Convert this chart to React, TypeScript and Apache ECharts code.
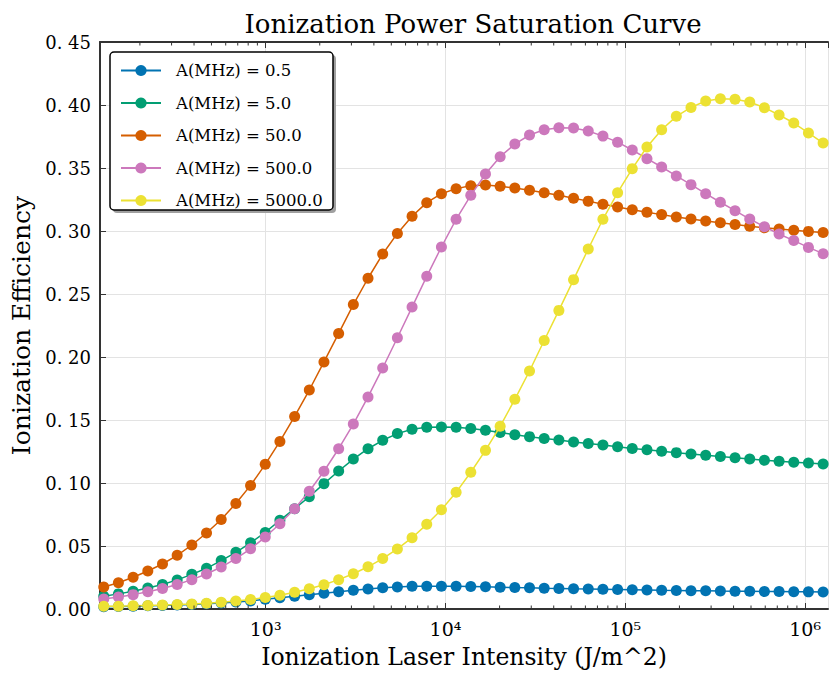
import React, { useEffect, useRef } from "react";
import * as echarts from "echarts";

const FONT = "DejaVu Serif";

const xValues = [
  125.9, 151.9, 183.4, 221.3, 267.1, 322.3, 388.9, 469.3, 566.4, 683.5,
  824.8, 995.4, 1201, 1450, 1750, 2111, 2548, 3075, 3711, 4478,
  5404, 6522, 7870, 9497, 11462, 13832, 16693, 20144, 24310, 29337,
  35403, 42724, 51559, 62221, 75088, 90615, 109353, 131965, 159254, 192187,
  231928, 279888, 337766, 407613, 491903, 593621, 716374, 864511, 1043284, 1258925,
];

const seriesNames = [
  "A(MHz) = 0.5",
  "A(MHz) = 5.0",
  "A(MHz) = 50.0",
  "A(MHz) = 500.0",
  "A(MHz) = 5000.0",
];

const colors = ["#0173b2", "#029e73", "#d55e00", "#cc78bc", "#ece133"];

const blue = [
  0.0018, 0.0020, 0.0022, 0.0025, 0.0028, 0.0032, 0.0036, 0.0041, 0.0047, 0.0055,
  0.0064, 0.0077, 0.0090, 0.0102, 0.0114, 0.0125, 0.0137, 0.0149, 0.0159, 0.0168,
  0.0175, 0.0180, 0.0181, 0.0181, 0.0180, 0.0178, 0.0176, 0.0173, 0.0170, 0.0168,
  0.0165, 0.0163, 0.0160, 0.0158, 0.0156, 0.0154, 0.0152, 0.0150, 0.0148, 0.0147,
  0.0145, 0.0144, 0.0142, 0.0141, 0.0140, 0.0139, 0.0138, 0.0137, 0.0136, 0.0135,
];

const green = [
  0.0101, 0.0120, 0.0141, 0.0166, 0.0194, 0.0231, 0.0275, 0.0323, 0.0384, 0.0450,
  0.0525, 0.0608, 0.0704, 0.0796, 0.0891, 0.0995, 0.1095, 0.1190, 0.1272, 0.1339,
  0.1392, 0.1427, 0.1442, 0.1445, 0.1442, 0.1433, 0.1419, 0.1401, 0.1383, 0.1368,
  0.1354, 0.1341, 0.1326, 0.1313, 0.1301, 0.1287, 0.1274, 0.1264, 0.1252, 0.1241,
  0.1230, 0.1220, 0.1210, 0.1200, 0.1190, 0.1181, 0.1173, 0.1165, 0.1158, 0.1150,
];

const orange = [
  0.0175, 0.0208, 0.0252, 0.0302, 0.0357, 0.0426, 0.0508, 0.0603, 0.0710, 0.0838,
  0.0981, 0.1148, 0.1330, 0.1528, 0.1738, 0.1961, 0.2187, 0.2416, 0.2625, 0.2817,
  0.2981, 0.3117, 0.3225, 0.3296, 0.3336, 0.3360, 0.3365, 0.3356, 0.3341, 0.3323,
  0.3304, 0.3283, 0.3260, 0.3237, 0.3213, 0.3190, 0.3168, 0.3149, 0.3130, 0.3111,
  0.3095, 0.3079, 0.3066, 0.3052, 0.3038, 0.3025, 0.3015, 0.3006, 0.2997, 0.2988,
];

const pink = [
  0.0079, 0.0095, 0.0114, 0.0137, 0.0163, 0.0195, 0.0233, 0.0278, 0.0333, 0.0400,
  0.0478, 0.0571, 0.0677, 0.0796, 0.0934, 0.1093, 0.1272, 0.1468, 0.1683, 0.1913,
  0.2153, 0.2396, 0.2640, 0.2873, 0.3093, 0.3283, 0.3452, 0.3590, 0.3690, 0.3762,
  0.3804, 0.3820, 0.3817, 0.3794, 0.3753, 0.3705, 0.3643, 0.3574, 0.3508, 0.3437,
  0.3368, 0.3296, 0.3228, 0.3161, 0.3095, 0.3034, 0.2976, 0.2924, 0.2870, 0.2820,
];

const yellow = [
  0.0021, 0.0022, 0.0025, 0.0028, 0.0031, 0.0035, 0.0040, 0.0046, 0.0053, 0.0063,
  0.0075, 0.0091, 0.0109, 0.0133, 0.0161, 0.0193, 0.0233, 0.0280, 0.0335, 0.0400,
  0.0477, 0.0566, 0.0672, 0.0788, 0.0926, 0.1085, 0.1259, 0.1450, 0.1664, 0.1889,
  0.2131, 0.2370, 0.2614, 0.2857, 0.3093, 0.3304, 0.3495, 0.3667, 0.3804, 0.3910,
  0.3981, 0.4032, 0.4050, 0.4045, 0.4024, 0.3979, 0.3921, 0.3857, 0.3778, 0.3698,
];

const allSeries = [blue, green, orange, pink, yellow];

const minorTicks = [
  200, 300, 400, 500, 600, 700, 800, 900,
  2000, 3000, 4000, 5000, 6000, 7000, 8000, 9000,
  20000, 30000, 40000, 50000, 60000, 70000, 80000, 90000,
  200000, 300000, 400000, 500000, 600000, 700000, 800000, 900000,
];

const sup: Record<number, string> = { 2: "²", 3: "³", 4: "⁴", 5: "⁵", 6: "⁶" };

const X_MIN = 120;
const X_MAX = 1340000;

export default function App() {
  const ref = useRef<HTMLDivElement>(null);
  useEffect(() => {
    if (!ref.current) return;
    const chart = echarts.init(ref.current, undefined, { renderer: "svg" });
    const axisColor = "#333333";
    const logFmt = (v: number) => {
      const l = Math.log10(v);
      const e = Math.round(l);
      if (Math.abs(l - e) > 1e-6) return "";
      return "10" + (sup[e] || "");
    };
    const lineSeries = allSeries.map((d, k) => ({
      name: seriesNames[k],
      type: "line",
      data: d.map((v, i) => [xValues[i], v]),
      symbol: "circle",
      symbolSize: 11,
      showSymbol: true,
      lineStyle: { color: colors[k], width: 1.5 },
      itemStyle: { color: colors[k] },
      z: 2 + k * 0.01,
    }));
    const option: any = {
      animation: false,
      grid: { left: 100, top: 42, width: 728, height: 567 },
      title: {
        text: "Ionization Power Saturation Curve",
        left: 468,
        top: 6,
        textAlign: "center",
        textStyle: { fontFamily: FONT, fontSize: 26, fontWeight: "normal", color: "#000" },
      },
      legend: {
        data: seriesNames,
        orient: "vertical",
        left: 120,
        top: 62,
        padding: 0,
        itemWidth: 40,
        itemHeight: 14,
        itemGap: 15.5,
        textStyle: { fontFamily: FONT, fontSize: 16.5, color: "#000", padding: [0, 0, 0, 10] },
        z: 20,
      },
      graphic: [
        {
          type: "rect",
          shape: { x: 113, y: 55, width: 223, height: 158, r: 4 },
          style: { fill: "#a0a0a0" },
          z: 10,
        },
        {
          type: "rect",
          shape: { x: 110, y: 52, width: 223, height: 158, r: 4 },
          style: { fill: "#ffffff", stroke: "#000", lineWidth: 1.5 },
          z: 11,
        },
      ],
      xAxis: [
        {
          type: "log",
          logBase: 10,
          min: X_MIN,
          max: X_MAX,
          name: "Ionization Laser Intensity (J/m^2)",
          nameLocation: "middle",
          nameGap: 36,
          nameTextStyle: { fontFamily: FONT, fontSize: 23.5, color: "#000" },
          axisLine: { show: true, onZero: false, lineStyle: { color: axisColor, width: 2 } },
          axisTick: { show: true, inside: true, length: 6, lineStyle: { color: axisColor, width: 1 } },
          axisLabel: {
            formatter: logFmt,
            margin: 10,
            showMinLabel: false,
            showMaxLabel: false,
            fontFamily: FONT,
            fontSize: 19,
            color: "#000",
          },
          splitLine: { show: true, lineStyle: { color: "#e3e3e3", width: 1 } },
        },
        {
          type: "log",
          logBase: 10,
          min: X_MIN,
          max: X_MAX,
          position: "top",
          axisLine: { show: true, onZero: false, lineStyle: { color: axisColor, width: 2 } },
          axisTick: { show: true, inside: true, length: 6, lineStyle: { color: axisColor, width: 1 } },
          axisLabel: { show: false },
          splitLine: { show: false },
        },
      ],
      yAxis: {
        type: "value",
        min: 0,
        max: 0.45,
        interval: 0.05,
        name: "Ionization Efficiency",
        nameLocation: "middle",
        nameGap: 63,
        nameTextStyle: { fontFamily: FONT, fontSize: 25, color: "#000" },
        axisLine: { show: true, lineStyle: { color: axisColor, width: 2 } },
        axisTick: { show: true, inside: true, length: 6, lineStyle: { color: axisColor, width: 1 } },
        axisLabel: {
          formatter: (v: number) => v.toFixed(2).replace(".", ". "),
          margin: 9,
          fontFamily: FONT,
          fontSize: 18,
          color: "#000",
        },
        splitLine: { show: true, lineStyle: { color: "#e3e3e3", width: 1 } },
      },
      series: [
        ...lineSeries,
        {
          type: "custom",
          name: "minorTicks",
          data: minorTicks.map((v) => [v, 0]),
          silent: true,
          z: 5,
          renderItem: (params: any, api: any) => {
            const x = api.coord([api.value(0), 0])[0];
            const cs = params.coordSys;
            const bottom = cs.y + cs.height;
            return {
              type: "group",
              children: [
                { type: "line", shape: { x1: x, y1: bottom, x2: x, y2: bottom - 3.5 }, style: { stroke: axisColor, lineWidth: 1 } },
                { type: "line", shape: { x1: x, y1: cs.y, x2: x, y2: cs.y + 3.5 }, style: { stroke: axisColor, lineWidth: 1 } },
              ],
            };
          },
        },
      ],
    };
    chart.setOption(option);
    return () => chart.dispose();
  }, []);
  return (
    <div
      ref={ref}
      style={{ position: "fixed", left: 0, top: 0, width: 829, height: 675, background: "#fff" }}
    />
  );
}
